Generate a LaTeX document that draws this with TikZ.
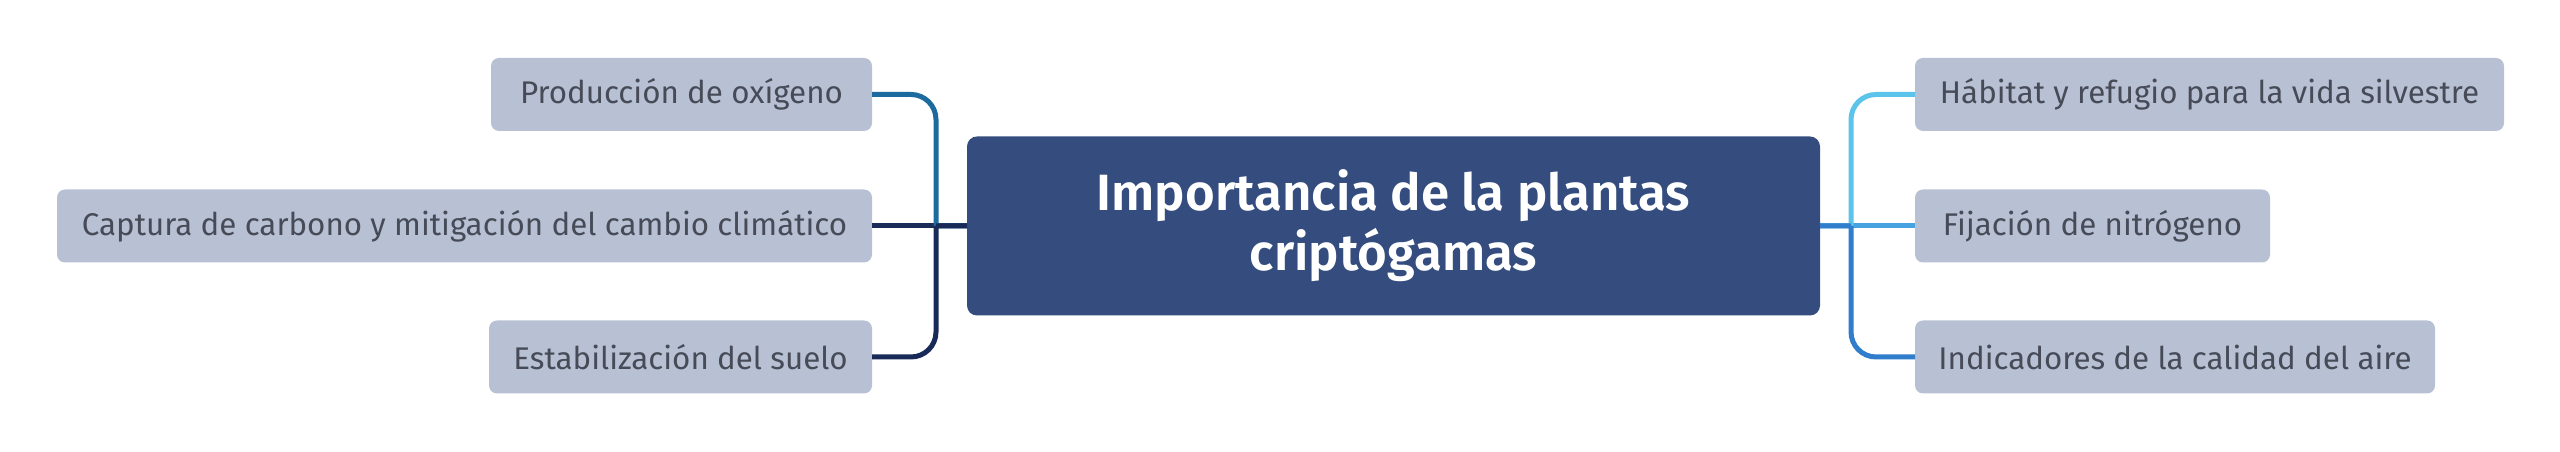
\documentclass[tikz,border=0pt]{standalone}
\usepackage{fontspec}
\setmainfont{Fira Sans}
\newfontfamily\rootfont{Fira Sans SemiBold}
\definecolor{leafgray}{HTML}{B8C1D4}
\definecolor{leaftext}{HTML}{464B57}
\definecolor{rootblue}{HTML}{344D7E}
\definecolor{ltop}{HTML}{1D6A9E}
\definecolor{lmid}{HTML}{1B2B57}
\definecolor{lbot}{HTML}{172A58}
\definecolor{rtop}{HTML}{5CC3EA}
\definecolor{rmid}{HTML}{46A3E0}
\definecolor{rbot}{HTML}{2F7DCB}
\begin{document}
\begin{tikzpicture}[x=0.3pt,y=-0.3pt,inner sep=0pt,outer sep=0pt,
leaf/.style={fill=leafgray,rounded corners=2.4pt,text=leaftext,minimum height=21.9pt,
  font=\fontsize{9.4}{11}\selectfont},
root/.style={fill=rootblue,rounded corners=3pt,text=white,align=center,
  minimum width=255.9pt,minimum height=53.7pt,font=\rootfont\fontsize{15.3}{18}\selectfont},
conn/.style={line width=1.5pt,rounded corners=7.5pt}]
\useasboundingbox (0,0) rectangle (2560,452);
\node[root] (imp) at (1393.5,226) {Importancia de la plantas\\criptógamas};
% izquierda
\node[leaf,anchor=east,minimum width={381*0.3pt}] (oxi) at (872,94.5) {Producción de oxígeno};
\node[leaf,anchor=east,minimum width={815*0.3pt}] (cap) at (872,226) {Captura de carbono y mitigación del cambio climático};
\node[leaf,anchor=east,minimum width={383*0.3pt}] (sue) at (872,357) {Estabilización del suelo};
% derecha
\node[leaf,anchor=west,minimum width={589*0.3pt}] (hab) at (1915,94.5) {Hábitat y refugio para la vida silvestre};
\node[leaf,anchor=west,minimum width={355*0.3pt}] (nit) at (1915,226) {Fijación de nitrógeno};
\node[leaf,anchor=west,minimum width={520*0.3pt}] (air) at (1915,357) {Indicadores de la calidad del aire};
\coordinate (jl) at (936,226);
\coordinate (jr) at (1851,226);
\draw[conn,lmid] (cap.east) -- (imp.west);
\draw[conn,ltop] (imp.west) -- (jl) (jl) |- (oxi.east);
\draw[conn,lbot] (imp.west) -- (jl) (jl) |- (sue.east);
\draw[conn,rmid] (imp.east) -- (nit.west);
\draw[conn,rtop] (imp.east) -- (jr) (jr) |- (hab.west);
\draw[conn,rbot] (imp.east) -- (jr) (jr) |- (air.west);
\end{tikzpicture}
\end{document}
